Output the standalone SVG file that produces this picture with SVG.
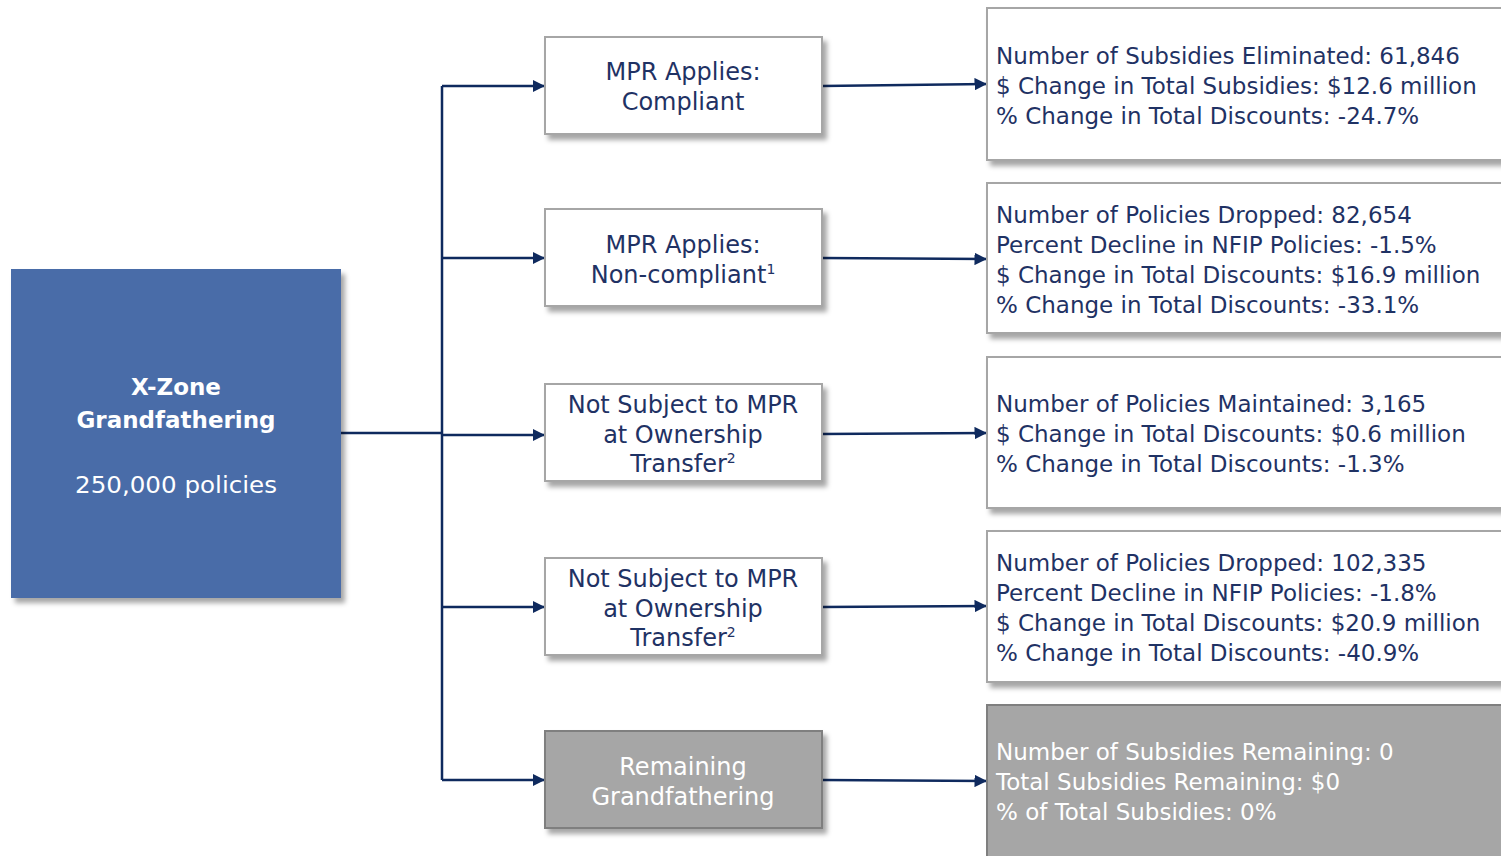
<svg xmlns="http://www.w3.org/2000/svg" width="1501" height="856" viewBox="0 0 1501 856">
<style>
.box{fill:#fff;stroke:#a6a6a6;stroke-width:2}
.gbox{fill:#a6a6a6;stroke:#7f7f7f;stroke-width:2}
.t{font-family:"DejaVu Sans","Liberation Sans",sans-serif;font-size:23px;fill:#1f3264}
.w{font-family:"DejaVu Sans","Liberation Sans",sans-serif;font-size:23px;fill:#fff}
.m{font-size:24px}
.c{text-anchor:middle}
.ln{stroke:#0f2a5e;stroke-width:2.5;fill:none}
.ar{stroke:#0f2a5e;stroke-width:2.5;fill:none;marker-end:url(#ah)}
</style>
<defs>
<filter id="sh" x="-10%" y="-10%" width="130%" height="140%">
<feDropShadow dx="4" dy="5" stdDeviation="2.5" flood-color="#000" flood-opacity="0.35"/>
</filter>
<marker id="ah" viewBox="0 0 10 10" refX="10" refY="5" markerWidth="5" markerHeight="5" orient="auto" markerUnits="strokeWidth">
<path d="M0,0L10,5L0,10z" fill="#0f2a5e"/>
</marker>
</defs>
<g id="connectors">
<path class="ln" d="M341,433H442"/>
<path class="ln" d="M442,86V780"/>
<path class="ar" d="M442,86H545"/>
<path class="ar" d="M442,258H545"/>
<path class="ar" d="M442,435H545"/>
<path class="ar" d="M442,607H545"/>
<path class="ar" d="M442,780H545"/>
<path class="ar" d="M822,86L987,84"/>
<path class="ar" d="M822,258L987,259"/>
<path class="ar" d="M822,434L987,433"/>
<path class="ar" d="M822,607L987,606"/>
<path class="ar" d="M822,780L987,781"/>
</g>
<g id="root">
<rect x="11" y="269" width="330" height="329" fill="#4a6ca8" filter="url(#sh)"/>
<text class="w c" x="176" y="395" font-size="25" font-weight="bold">X-Zone</text>
<text class="w c" x="176" y="428" font-size="25" font-weight="bold" textLength="199" lengthAdjust="spacingAndGlyphs">Grandfathering</text>
<text class="w c" x="176" y="493" font-size="27" textLength="202" lengthAdjust="spacingAndGlyphs">250,000 policies</text>
</g>
<g id="mid1">
<rect class="box" x="545" y="37" width="277" height="97" filter="url(#sh)"/>
<text class="t m c" x="683" y="80">MPR Applies:</text>
<text class="t m c" x="683" y="110">Compliant</text>
</g>
<g id="mid2">
<rect class="box" x="545" y="209" width="277" height="97" filter="url(#sh)"/>
<text class="t m c" x="683" y="253">MPR Applies:</text>
<text class="t m c" x="683" y="283">Non-compliant<tspan font-size="14" dy="-9">1</tspan></text>
</g>
<g id="mid3">
<rect class="box" x="545" y="384" width="277" height="97" filter="url(#sh)"/>
<text class="t m c" x="683" y="413">Not Subject to MPR</text>
<text class="t m c" x="683" y="443">at Ownership</text>
<text class="t m c" x="683" y="472">Transfer<tspan font-size="14" dy="-9">2</tspan></text>
</g>
<g id="mid4">
<rect class="box" x="545" y="558" width="277" height="97" filter="url(#sh)"/>
<text class="t m c" x="683" y="587">Not Subject to MPR</text>
<text class="t m c" x="683" y="617">at Ownership</text>
<text class="t m c" x="683" y="646">Transfer<tspan font-size="14" dy="-9">2</tspan></text>
</g>
<g id="mid5">
<rect class="gbox" x="545" y="731" width="277" height="97" filter="url(#sh)"/>
<text class="w m c" x="683" y="775">Remaining</text>
<text class="w m c" x="683" y="805">Grandfathering</text>
</g>
<g id="res1">
<rect class="box" x="987" y="8" width="530" height="152" filter="url(#sh)"/>
<text class="t" x="996" y="64">Number of Subsidies Eliminated: 61,846</text>
<text class="t" x="996" y="94">$ Change in Total Subsidies: $12.6 million</text>
<text class="t" x="996" y="124">% Change in Total Discounts: -24.7%</text>
</g>
<g id="res2">
<rect class="box" x="987" y="183" width="530" height="150" filter="url(#sh)"/>
<text class="t" x="996" y="223">Number of Policies Dropped: 82,654</text>
<text class="t" x="996" y="253">Percent Decline in NFIP Policies: -1.5%</text>
<text class="t" x="996" y="283">$ Change in Total Discounts: $16.9 million</text>
<text class="t" x="996" y="313">% Change in Total Discounts: -33.1%</text>
</g>
<g id="res3">
<rect class="box" x="987" y="357" width="530" height="151" filter="url(#sh)"/>
<text class="t" x="996" y="412">Number of Policies Maintained: 3,165</text>
<text class="t" x="996" y="442">$ Change in Total Discounts: $0.6 million</text>
<text class="t" x="996" y="472">% Change in Total Discounts: -1.3%</text>
</g>
<g id="res4">
<rect class="box" x="987" y="531" width="530" height="151" filter="url(#sh)"/>
<text class="t" x="996" y="571">Number of Policies Dropped: 102,335</text>
<text class="t" x="996" y="601">Percent Decline in NFIP Policies: -1.8%</text>
<text class="t" x="996" y="631">$ Change in Total Discounts: $20.9 million</text>
<text class="t" x="996" y="661">% Change in Total Discounts: -40.9%</text>
</g>
<g id="res5">
<rect class="gbox" x="987" y="705" width="530" height="170"/>
<text class="w" x="996" y="760">Number of Subsidies Remaining: 0</text>
<text class="w" x="996" y="790">Total Subsidies Remaining: $0</text>
<text class="w" x="996" y="820">% of Total Subsidies: 0%</text>
</g>
</svg>
